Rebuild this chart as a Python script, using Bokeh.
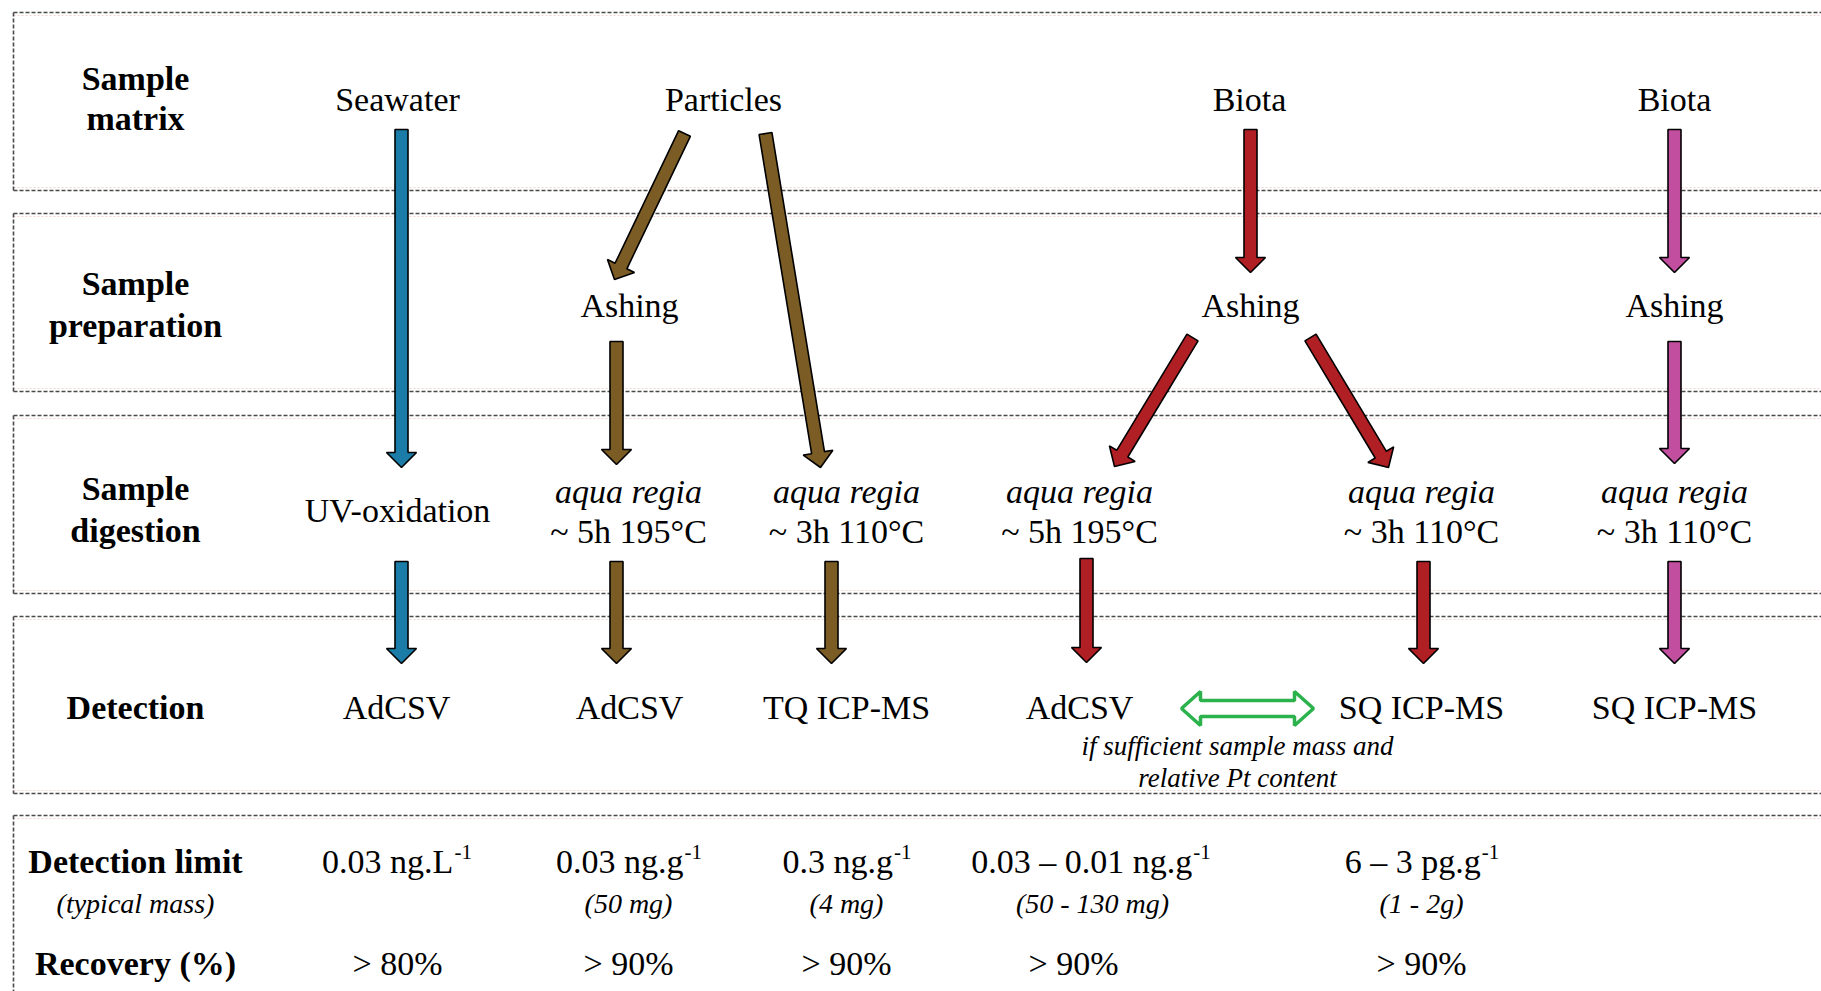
import math
from bokeh.plotting import figure
from bokeh.models import Range1d
from bokeh.core.properties import value
from bokeh.embed import file_html
from bokeh.resources import INLINE

# ---------------- data ----------------
box_tops = [12, 213, 415, 616, 815]
box_bottoms = [190, 391, 593, 793, 1000]

label_lines = ["Sample", "matrix", "Sample", "preparation", "Sample", "digestion",
               "Detection", "Detection limit", "Recovery (%)"]
label_y = [90, 130, 295, 337, 500, 542, 719, 873, 975]
label_x = 135
mass_label = "(typical mass)"
mass_label_y = 913

matrix_names = ["Seawater", "Particles", "Biota", "Biota"]
matrix_x = [397, 723, 1249, 1674]
matrix_y = 111

ashing_x = [629, 1250, 1674]
ashing_y = 317

uv_text = "UV-oxidation"
uv_x, uv_y = 397, 522
regia_x = [628, 846, 1079, 1421, 1674]
regia_conditions = ["~ 5h 195°C", "~ 3h 110°C", "~ 5h 195°C", "~ 3h 110°C", "~ 3h 110°C"]
regia_y1, regia_y2 = 503, 543

detect_names = ["AdCSV", "AdCSV", "TQ ICP-MS", "AdCSV", "SQ ICP-MS", "SQ ICP-MS"]
detect_x = [396, 629, 846, 1079, 1421, 1674]
detect_y = 719
note_lines = ["if sufficient sample mass and", "relative Pt content"]
note_x = 1237
note_y = [755, 787]

limit_main = ["0.03 ng.L", "0.03 ng.g", "0.3 ng.g", "0.03 – 0.01 ng.g", "6 – 3 pg.g"]
limit_sup = ["-1", "-1", "-1", "-1", "-1"]
limit_x = [396, 628, 846, 1090, 1421]
limit_y = 873
masses = ["(50 mg)", "(4 mg)", "(50 - 130 mg)", "(1 - 2g)"]
masses_x = [628, 846, 1092, 1421]
recovery = ["> 80%", "> 90%", "> 90%", "> 90%", "> 90%"]
recovery_x = [397, 628, 846, 1073, 1421]
recovery_y = 975

# arrows: (x0, y0, x1, y1, colour key)
arrows = [
    (401, 129, 401, 467, "sea"), (401, 561, 401, 663, "sea"),
    (684, 133, 614, 279, "part"), (765, 133, 820, 467, "part"),
    (616, 341, 616, 464, "part"), (616, 561, 616, 663, "part"),
    (831, 561, 831, 663, "part"),
    (1250, 129, 1250, 272, "biota"), (1192, 337, 1114, 466, "biota"),
    (1310, 337, 1388, 467, "biota"), (1086, 558, 1086, 662, "biota"),
    (1423, 561, 1423, 663, "biota"),
    (1674, 129, 1674, 272, "biota2"), (1674, 341, 1674, 463, "biota2"),
    (1674, 561, 1674, 663, "biota2"),
]
palette = {"sea": "#1b7da7", "part": "#7b5c24", "biota": "#b01f24", "biota2": "#c24e9f"}
double_arrow = (1181, 1313, 708)  # x start, x end, y centre

# ---------------- helpers ----------------
TIMES = {'0': 500, '1': 500, '2': 500, '3': 500, '4': 500, '5': 500, '6': 500,
         '7': 500, '8': 500, '9': 500, '.': 250, ' ': 250, 'n': 500, 'g': 500,
         'L': 611, 'p': 500, '–': 500, '-': 333}

BASE_SHIFT = 0.35  # bokeh's alphabetic baseline lands ~0.35em below the anchor


def tw(s, size):
    return sum(TIMES.get(c, 500) for c in s) / 1000.0 * size


def arrow_poly(x0, y0, x1, y1, sw=13.0, hw=30.0, hl=15.0):
    dx, dy = x1 - x0, y1 - y0
    L = math.hypot(dx, dy)
    ux, uy = dx / L, dy / L
    px, py = -uy, ux
    bx, by = x1 - ux * hl, y1 - uy * hl
    pts = [
        (x0 + px * sw / 2, y0 + py * sw / 2),
        (bx + px * sw / 2, by + py * sw / 2),
        (bx + px * hw / 2, by + py * hw / 2),
        (x1, y1),
        (bx - px * hw / 2, by - py * hw / 2),
        (bx - px * sw / 2, by - py * sw / 2),
        (x0 - px * sw / 2, y0 - py * sw / 2),
    ]
    return [p[0] for p in pts], [p[1] for p in pts]


# ---------------- figure ----------------
W, H = 1821, 991
p = figure(width=W, height=H, x_range=Range1d(0, W), y_range=Range1d(H, 0),
           output_backend="svg", toolbar_location=None, min_border=0,
           x_axis_type=None, y_axis_type=None)
p.xgrid.visible = False
p.ygrid.visible = False
p.outline_line_color = None
p.background_fill_color = "white"

FONT = value("Liberation Serif")

# dashed boxes (open on the right)
xs, ys = [], []
gx, gy = [], []
for t, b in zip(box_tops, box_bottoms):
    xs += [[13, W + 5], [13, W + 5], [13, 13]]
    ys += [[t, t], [b, b], [t, b]]
    gx += [[13, W + 5], [13, W + 5]]
    gy += [[t + 3, t + 3], [b - 3, b - 3]]
p.multi_line(gx, gy, line_color="#f2d4d2", line_width=1.2, line_dash="2 2")
p.multi_line(xs, ys, line_color="#4a4a4a", line_width=1.6, line_dash="4 2")

# arrows
axs, ays, acol = [], [], []
for x0, y0, x1, y1, k in arrows:
    ax, ay = arrow_poly(x0, y0, x1, y1)
    axs.append(ax)
    ays.append(ay)
    acol.append(palette[k])
p.patches(axs, ays, fill_color=acol, line_color="black", line_width=1.6)

# double hollow green arrow
xa, xb, yc = double_arrow
hh, sh, hl = 17, 8, 19
dxs = [xa, xa + hl, xa + hl, xb - hl, xb - hl, xb, xb - hl, xb - hl, xa + hl, xa + hl, xa]
dys = [yc, yc - hh, yc - sh, yc - sh, yc - hh, yc, yc + hh, yc + sh, yc + sh, yc + hh, yc]
p.patch(dxs, dys, fill_color="white", line_color="#2bb24c", line_width=3.5)


def txt(x, y, t, size, style="normal", align="center"):
    if not isinstance(x, list):
        x, y, t = [x], [y], [t]
    yy = [v - BASE_SHIFT * size for v in y]
    p.text(x=x, y=yy, text=t, text_font=FONT, text_font_size=f"{size}px",
           text_font_style=style, text_align=align, text_baseline="alphabetic",
           text_color="black")


# row labels
txt([label_x] * len(label_lines), label_y, label_lines, 34, "bold")
txt(label_x, mass_label_y, mass_label, 28, "italic")

# sample matrix row
txt(matrix_x, [matrix_y] * len(matrix_x), matrix_names, 34)
# preparation
txt(ashing_x, [ashing_y] * len(ashing_x), ["Ashing"] * len(ashing_x), 34)
# digestion
txt(uv_x, uv_y, uv_text, 34)
txt(regia_x, [regia_y1] * len(regia_x), ["aqua regia"] * len(regia_x), 34, "italic")
txt(regia_x, [regia_y2] * len(regia_x), regia_conditions, 34)
# detection
txt(detect_x, [detect_y] * len(detect_x), detect_names, 34)
txt([note_x] * 2, note_y, note_lines, 27, "italic")

# limits with superscripts
MS, SS = 34, 21
jx = []
for m, s, cx in zip(limit_main, limit_sup, limit_x):
    wm, ws = tw(m, MS), tw(s, SS)
    jx.append(cx - (wm + ws) / 2 + wm)
txt(jx, [limit_y] * len(jx), limit_main, MS, align="right")
txt([j + 1 for j in jx], [limit_y - 14] * len(jx), limit_sup, SS, align="left")
txt(masses_x, [mass_label_y] * len(masses_x), masses, 28, "italic")
txt(recovery_x, [recovery_y] * len(recovery_x), recovery, 34)

open("out.html", "w").write(file_html(p, INLINE))
